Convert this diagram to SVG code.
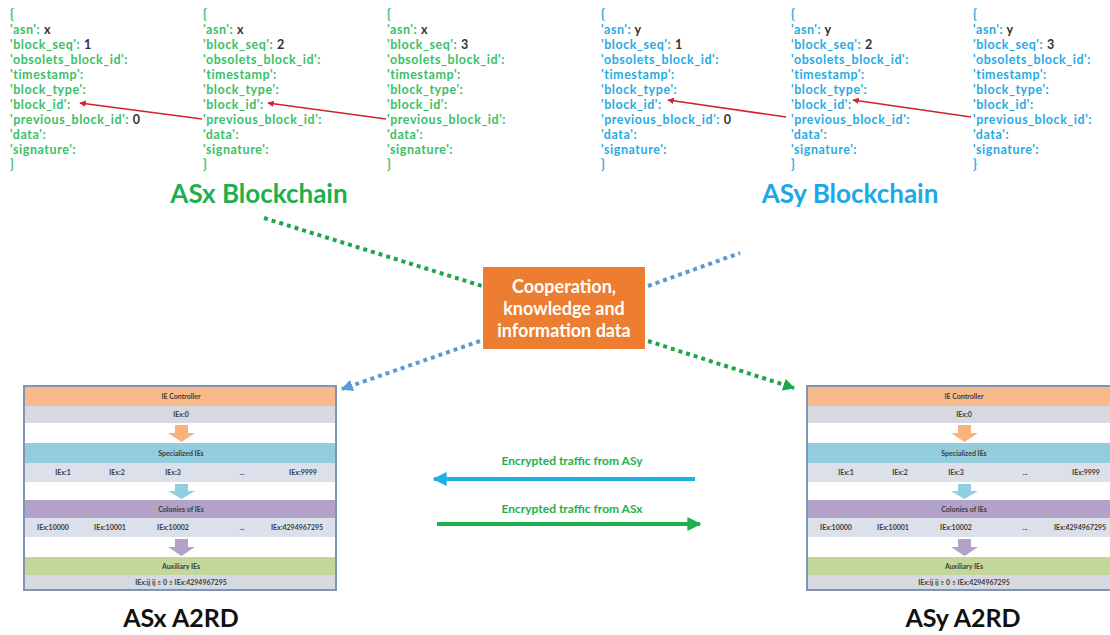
<svg xmlns="http://www.w3.org/2000/svg" width="1110" height="635" viewBox="0 0 1110 635">
<style>
.js{font-family:Lato,"Noto Sans",sans-serif;font-weight:700;font-size:12.5px;letter-spacing:0.55px}
.jg{fill:#3cc068}
.jb{fill:#2aaae2}
.v{fill:#333}
.title{font-family:Lato,"Liberation Sans",sans-serif;font-weight:700;font-size:25px;text-anchor:middle}
.bt{font-size:26px}
.pt{font-family:Lato,"Liberation Sans",sans-serif;font-weight:700;font-size:7px;fill:#3c3c3c;text-anchor:middle}
.box{font-family:Lato,"Liberation Sans",sans-serif;font-weight:700;font-size:18px;fill:#fff;text-anchor:middle}
.enc{font-family:Lato,"Liberation Sans",sans-serif;font-weight:700;font-size:12px;fill:#1db04c;text-anchor:middle}
.red{stroke:#d2232a;stroke-width:1.6;fill:none}
.dg{stroke:#1fa64a;stroke-width:4;stroke-dasharray:4 4;fill:none}
.db{stroke:#5b9bd5;stroke-width:4;stroke-dasharray:4 4;fill:none}
</style>
<defs>
<marker id="mr" viewBox="0 0 10 10" refX="9" refY="5" markerWidth="4" markerHeight="4" orient="auto"><path d="M0,0 L10,5 L0,10 Z" fill="#d2232a"/></marker>
<marker id="mdb" viewBox="0 0 10 10" refX="9" refY="5" markerWidth="3" markerHeight="3" orient="auto"><path d="M0,0 L10,5 L0,10 Z" fill="#5b9bd5"/></marker>
<marker id="mdg" viewBox="0 0 10 10" refX="9" refY="5" markerWidth="3" markerHeight="3" orient="auto"><path d="M0,0 L10,5 L0,10 Z" fill="#1fa64a"/></marker>
<marker id="mb" viewBox="0 0 10 10" refX="9" refY="5" markerWidth="3.5" markerHeight="3.5" orient="auto"><path d="M0,0 L10,5 L0,10 Z" fill="#1fb0e8"/></marker>
<marker id="mg" viewBox="0 0 10 10" refX="9" refY="5" markerWidth="3.5" markerHeight="3.5" orient="auto"><path d="M0,0 L10,5 L0,10 Z" fill="#1db04c"/></marker>
<g id="panel">
<rect x="24" y="386" width="312" height="204" fill="#fff" stroke="#8193b6" stroke-width="2"/>
<rect x="25" y="387" width="310" height="19" fill="#f8b98b"/>
<text class="pt" x="181" y="399">IE Controller</text>
<rect x="25" y="406" width="310" height="17" fill="#d7d9e0"/>
<text class="pt" x="181" y="417">IEx:0</text>
<path d="M175,425 H188 V433 H195 L181.5,442 L168,433 H175 Z" fill="#f9b27c"/>
<rect x="25" y="443" width="310" height="20" fill="#93cddd"/>
<text class="pt" x="181" y="456">Specialized IEs</text>
<rect x="25" y="463" width="310" height="19" fill="#dbe0ea"/>
<text class="pt" x="63" y="475">IEx:1</text>
<text class="pt" x="117" y="475">IEx:2</text>
<text class="pt" x="173" y="475">IEx:3</text>
<text class="pt" x="242" y="475">...</text>
<text class="pt" x="303" y="475">IEx:9999</text>
<path d="M175,484 H188 V491 H195 L181.5,499 L168,491 H175 Z" fill="#8fd0e0"/>
<rect x="25" y="500" width="310" height="18" fill="#b3a2c7"/>
<text class="pt" x="181" y="512">Colonies of IEs</text>
<rect x="25" y="518" width="310" height="19" fill="#dbe0ea"/>
<text class="pt" x="53" y="530">IEx:10000</text>
<text class="pt" x="110" y="530">IEx:10001</text>
<text class="pt" x="173" y="530">IEx:10002</text>
<text class="pt" x="242" y="530">...</text>
<text class="pt" x="297" y="530">IEx:4294967295</text>
<path d="M175,539 H188 V547 H195 L181.5,556 L168,547 H175 Z" fill="#b3a2c7"/>
<rect x="25" y="557" width="310" height="18" fill="#c4d79b"/>
<text class="pt" x="181" y="569">Auxiliary IEs</text>
<rect x="25" y="575" width="310" height="14" fill="#d7d9e0"/>
<text class="pt" x="181" y="585">IEx:ij ij ≥ 0 ≤ IEx:4294967295</text>
</g>
</defs>

<g id="asx-block1" class="js jg">
<text x="10" y="19">{</text>
<text x="10" y="34">'asn': <tspan class="v">x</tspan></text>
<text x="10" y="49">'block_seq': <tspan class="v">1</tspan></text>
<text x="10" y="64">'obsolets_block_id':</text>
<text x="10" y="79">'timestamp':</text>
<text x="10" y="94">'block_type':</text>
<text x="10" y="109">'block_id':</text>
<text x="10" y="124">'previous_block_id': <tspan class="v">0</tspan></text>
<text x="10" y="139">'data':</text>
<text x="10" y="154">'signature':</text>
<text x="10" y="169">}</text>
</g>
<g id="asx-block2" class="js jg">
<text x="203" y="19">{</text>
<text x="203" y="34">'asn': <tspan class="v">x</tspan></text>
<text x="203" y="49">'block_seq': <tspan class="v">2</tspan></text>
<text x="203" y="64">'obsolets_block_id':</text>
<text x="203" y="79">'timestamp':</text>
<text x="203" y="94">'block_type':</text>
<text x="203" y="109">'block_id':</text>
<text x="203" y="124">'previous_block_id':</text>
<text x="203" y="139">'data':</text>
<text x="203" y="154">'signature':</text>
<text x="203" y="169">}</text>
</g>
<g id="asx-block3" class="js jg">
<text x="387" y="19">{</text>
<text x="387" y="34">'asn': <tspan class="v">x</tspan></text>
<text x="387" y="49">'block_seq': <tspan class="v">3</tspan></text>
<text x="387" y="64">'obsolets_block_id':</text>
<text x="387" y="79">'timestamp':</text>
<text x="387" y="94">'block_type':</text>
<text x="387" y="109">'block_id':</text>
<text x="387" y="124">'previous_block_id':</text>
<text x="387" y="139">'data':</text>
<text x="387" y="154">'signature':</text>
<text x="387" y="169">}</text>
</g>
<g id="asy-block1" class="js jb">
<text x="601" y="19">{</text>
<text x="601" y="34">'asn': <tspan class="v">y</tspan></text>
<text x="601" y="49">'block_seq': <tspan class="v">1</tspan></text>
<text x="601" y="64">'obsolets_block_id':</text>
<text x="601" y="79">'timestamp':</text>
<text x="601" y="94">'block_type':</text>
<text x="601" y="109">'block_id':</text>
<text x="601" y="124">'previous_block_id': <tspan class="v">0</tspan></text>
<text x="601" y="139">'data':</text>
<text x="601" y="154">'signature':</text>
<text x="601" y="169">}</text>
</g>
<g id="asy-block2" class="js jb">
<text x="791" y="19">{</text>
<text x="791" y="34">'asn': <tspan class="v">y</tspan></text>
<text x="791" y="49">'block_seq': <tspan class="v">2</tspan></text>
<text x="791" y="64">'obsolets_block_id':</text>
<text x="791" y="79">'timestamp':</text>
<text x="791" y="94">'block_type':</text>
<text x="791" y="109">'block_id':</text>
<text x="791" y="124">'previous_block_id':</text>
<text x="791" y="139">'data':</text>
<text x="791" y="154">'signature':</text>
<text x="791" y="169">}</text>
</g>
<g id="asy-block3" class="js jb">
<text x="973" y="19">{</text>
<text x="973" y="34">'asn': <tspan class="v">y</tspan></text>
<text x="973" y="49">'block_seq': <tspan class="v">3</tspan></text>
<text x="973" y="64">'obsolets_block_id':</text>
<text x="973" y="79">'timestamp':</text>
<text x="973" y="94">'block_type':</text>
<text x="973" y="109">'block_id':</text>
<text x="973" y="124">'previous_block_id':</text>
<text x="973" y="139">'data':</text>
<text x="973" y="154">'signature':</text>
<text x="973" y="169">}</text>
</g>

<g id="asx-title"><text class="title bt" x="259" y="203" fill="#1db04c">ASx Blockchain</text></g>
<g id="asy-title"><text class="title bt" x="850" y="203" fill="#1ba8e6">ASy Blockchain</text></g>

<g id="coop">
<rect x="483" y="267" width="162" height="82" fill="#ed7d31"/>
<text class="box" x="564" y="293">Cooperation,</text>
<text class="box" x="564" y="315">knowledge and</text>
<text class="box" x="564" y="337">information data</text>
</g>

<g id="asx-a2rd"><use href="#panel"/><text class="title" x="181" y="627" fill="#111">ASx A2RD</text></g>
<g id="asy-a2rd"><use href="#panel" transform="translate(783,0)"/><text class="title" x="963" y="627" fill="#111">ASy A2RD</text></g>

<g id="traffic-labels">
<text class="enc" x="572" y="465">Encrypted traffic from ASy</text>
<text class="enc" x="572" y="513">Encrypted traffic from ASx</text>
</g>

<g id="connectors">
<line class="red" x1="202" y1="119" x2="80" y2="103" marker-end="url(#mr)"/>
<line class="red" x1="386" y1="119" x2="268" y2="103" marker-end="url(#mr)"/>
<line class="red" x1="786" y1="117" x2="668" y2="100" marker-end="url(#mr)"/>
<line class="red" x1="971" y1="117" x2="853" y2="100" marker-end="url(#mr)"/>
<line class="dg" x1="264" y1="218" x2="482" y2="286"/>
<line class="db" x1="648" y1="286" x2="740" y2="253"/>
<line class="db" x1="480" y1="341" x2="342" y2="389" marker-end="url(#mdb)"/>
<line class="dg" x1="648" y1="341" x2="794" y2="388" marker-end="url(#mdg)"/>
<line x1="695" y1="479" x2="434" y2="479" stroke="#1fb0e8" stroke-width="4" marker-end="url(#mb)"/>
<line x1="437" y1="524" x2="700" y2="524" stroke="#1db04c" stroke-width="4" marker-end="url(#mg)"/>
</g>
</svg>
